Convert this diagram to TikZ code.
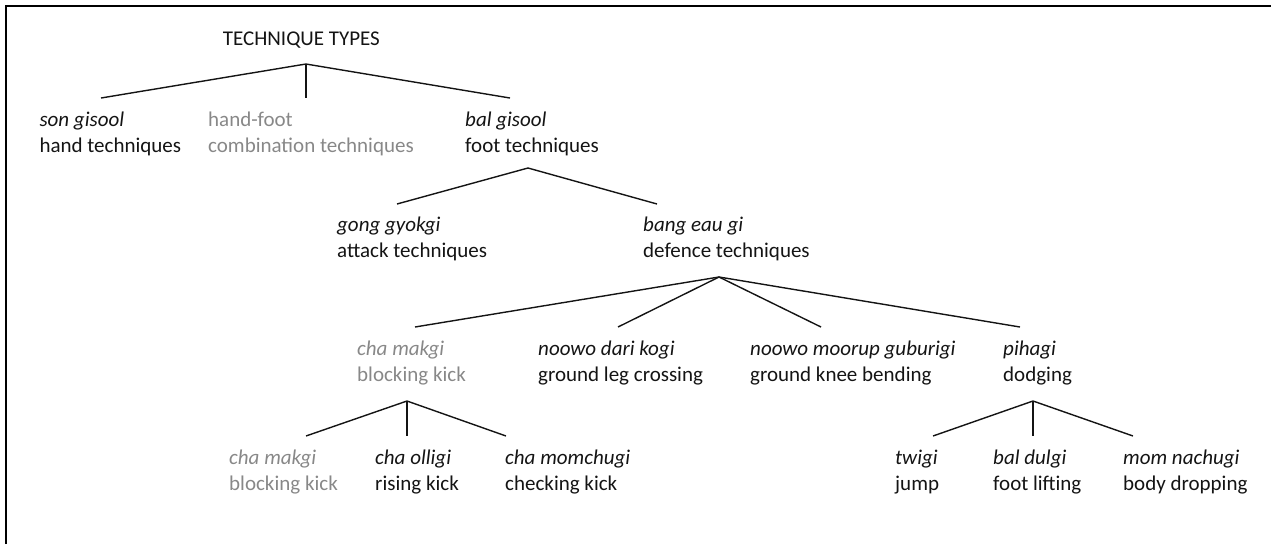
\documentclass[tikz,border=0pt]{standalone}
\usepackage{fontspec}
\setmainfont{Carlito}
\definecolor{dimtext}{RGB}{136,136,136}
\definecolor{ink}{RGB}{20,20,20}
\tikzset{
  lbl/.style={anchor=base west, inner sep=0pt, text=ink,
              font=\fontsize{21}{26}\selectfont},
  dim/.style={text=dimtext},
  branch/.style={draw=ink, line width=1.4pt},
  stem/.style={draw=ink, line width=1.1pt},
  frame/.style={draw=black, line width=2pt}
}
% a two-line label: romanised term (italic) over its translation
\newcommand{\termblock}[6]{%
  \node[lbl,#6] (#1-a) at (#2,#3) {\itshape #4};
  \node[lbl,#6] (#1-b) at (#2,#3+26) {#5};
}
\begin{document}
\begin{tikzpicture}[x=1pt,y=-1pt]
  \useasboundingbox (0,0) rectangle (1271,544);

  % open frame: top and left edges
  \coordinate (fA) at (6,544);
  \coordinate (fB) at (6,6);
  \coordinate (fC) at (1271,6);
  \draw[frame] (fA) -- (fB) -- (fC);

  % labels
  \node[lbl] (title) at (222.7,45) {TECHNIQUE TYPES};

  \termblock{son}{39.3}{126}{son gisool}{hand techniques}{}
  \node[lbl,dim] (combo-a) at (208,126) {hand-foot};
  \node[lbl,dim] (combo-b) at (208,152) {combination techniques};
  \termblock{bal}{465}{126}{bal gisool}{foot techniques}{}

  \termblock{gong}{337}{231}{gong gyokgi}{attack techniques}{}
  \termblock{bang}{643}{231}{bang eau gi}{defence techniques}{}

  \termblock{makA}{357}{355}{cha makgi}{blocking kick}{dim}
  \termblock{dari}{538}{355}{noowo dari kogi}{ground leg crossing}{}
  \termblock{moor}{750}{355}{noowo moorup guburigi}{ground knee bending}{}
  \termblock{piha}{1003}{355}{pihagi}{dodging}{}

  \termblock{makB}{229}{464}{cha makgi}{blocking kick}{dim}
  \termblock{olli}{375}{464}{cha olligi}{rising kick}{}
  \termblock{momc}{505}{464}{cha momchugi}{checking kick}{}

  \termblock{twig}{895}{464}{twigi}{jump}{}
  \termblock{dulg}{993}{464}{bal dulgi}{foot lifting}{}
  \termblock{nach}{1123}{464}{mom nachugi}{body dropping}{}

  % branch points and branch ends
  \coordinate (j0) at (306,64);
  \coordinate (e0a) at (101,98);
  \coordinate (e0b) at (306,98);
  \coordinate (e0c) at (510,98);

  \coordinate (j1) at (528,168);
  \coordinate (e1a) at (397,204);
  \coordinate (e1b) at (657,204);

  \coordinate (j2) at (719,277);
  \coordinate (e2a) at (415,327);
  \coordinate (e2b) at (618,327);
  \coordinate (e2c) at (821,327);
  \coordinate (e2d) at (1020,327);

  \coordinate (j3) at (407,401);
  \coordinate (e3a) at (306,436);
  \coordinate (e3b) at (407,436);
  \coordinate (e3c) at (506,436);

  \coordinate (j4) at (1033,401);
  \coordinate (e4a) at (933,436);
  \coordinate (e4b) at (1033,436);
  \coordinate (e4c) at (1133,436);

  % branches
  \draw[branch] (j0) -- (e0a);
  \draw[stem] (j0) -- (e0b);
  \draw[branch] (j0) -- (e0c);

  \draw[branch] (j1) -- (e1a);
  \draw[branch] (j1) -- (e1b);

  \draw[branch] (j2) -- (e2a);
  \draw[branch] (j2) -- (e2b);
  \draw[branch] (j2) -- (e2c);
  \draw[branch] (j2) -- (e2d);

  \draw[branch] (j3) -- (e3a);
  \draw[stem] (j3) -- (e3b);
  \draw[branch] (j3) -- (e3c);

  \draw[branch] (j4) -- (e4a);
  \draw[stem] (j4) -- (e4b);
  \draw[branch] (j4) -- (e4c);
\end{tikzpicture}
\end{document}
